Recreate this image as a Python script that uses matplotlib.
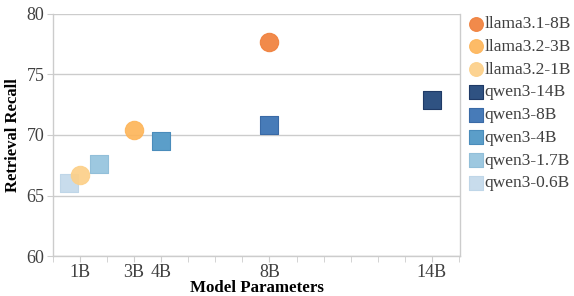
import matplotlib
matplotlib.use('Agg')
import matplotlib.pyplot as plt
from matplotlib.ticker import MultipleLocator

# data
models = ['llama3.1-8B', 'llama3.2-3B', 'llama3.2-1B',
          'qwen3-14B', 'qwen3-8B', 'qwen3-4B', 'qwen3-1.7B', 'qwen3-0.6B']
params = [8, 3, 1, 14, 8, 4, 1.7, 0.6]
recall = [77.7, 70.4, 66.7, 72.9, 70.8, 69.5, 67.6, 66.05]
markers = ['o', 'o', 'o', 's', 's', 's', 's', 's']
colors = ['#f0803c', '#fdb55a', '#fcd089',
          '#2f5282', '#477bb8', '#5b9ec9', '#9dc8e0', '#c8dcec']
edges = ['#f0803c', '#fdb55a', '#fcd089',
         '#1f3a66', '#3a6aa6', '#4a8cbb', '#92bfd9', '#bfd6e8']

xticks = [1, 3, 4, 8, 14]
xtick_labels = ['1B', '3B', '4B', '8B', '14B']
yticks = [60, 65, 70, 75, 80]

plt.rcParams['font.family'] = ['Liberation Serif', 'DejaVu Serif']

fig = plt.figure(figsize=(5.74, 2.96), dpi=100)
ax = fig.add_axes([0.092, 0.135, 0.71, 0.818])

grey = '#cccccc'
handles = {}
# qwen first so the llama circles sit on top
order = [3, 4, 5, 6, 7, 0, 1, 2]
for i in order:
    h = ax.scatter(params[i], recall[i], s=175, marker=markers[i],
                   color=colors[i], edgecolors=edges[i], linewidths=0.8,
                   alpha=0.92 if markers[i] == 'o' else 1.0, zorder=3,
                   label=models[i])
    handles[i] = h

ax.set_xlim(0, 15.05)
ax.set_ylim(60, 80)
ax.set_xticks(xticks)
ax.set_xticklabels(xtick_labels)
ax.xaxis.set_minor_locator(MultipleLocator(1))
ax.set_yticks(yticks)
ax.yaxis.grid(True, color=grey, linewidth=1)
ax.set_axisbelow(True)

for side in ['left', 'bottom', 'right']:
    ax.spines[side].set_color(grey)
    ax.spines[side].set_linewidth(1)
ax.spines['top'].set_visible(False)

ax.tick_params(axis='both', which='both', colors=grey, labelcolor='#404040',
               labelsize=13)
ax.tick_params(axis='x', which='both', length=4, pad=1.5)
ax.tick_params(axis='y', length=4, pad=2)

ax.set_xlabel('Model Parameters', fontsize=12.2, fontweight='bold')
ax.xaxis.set_label_coords(0.5, -0.101)
ax.set_ylabel('Retrieval Recall', fontsize=12, fontweight='bold', labelpad=4)

leg = ax.legend([handles[i] for i in range(len(models))], models,
                loc='upper left', bbox_to_anchor=(0.995, 1.02), frameon=False,
                fontsize=12.5, handletextpad=-0.1, labelspacing=0.38,
                borderaxespad=0, markerscale=0.75, scatterpoints=1,
                handlelength=1.2)
for t in leg.get_texts():
    t.set_color('#404040')

fig.savefig('out.png', dpi=100)
